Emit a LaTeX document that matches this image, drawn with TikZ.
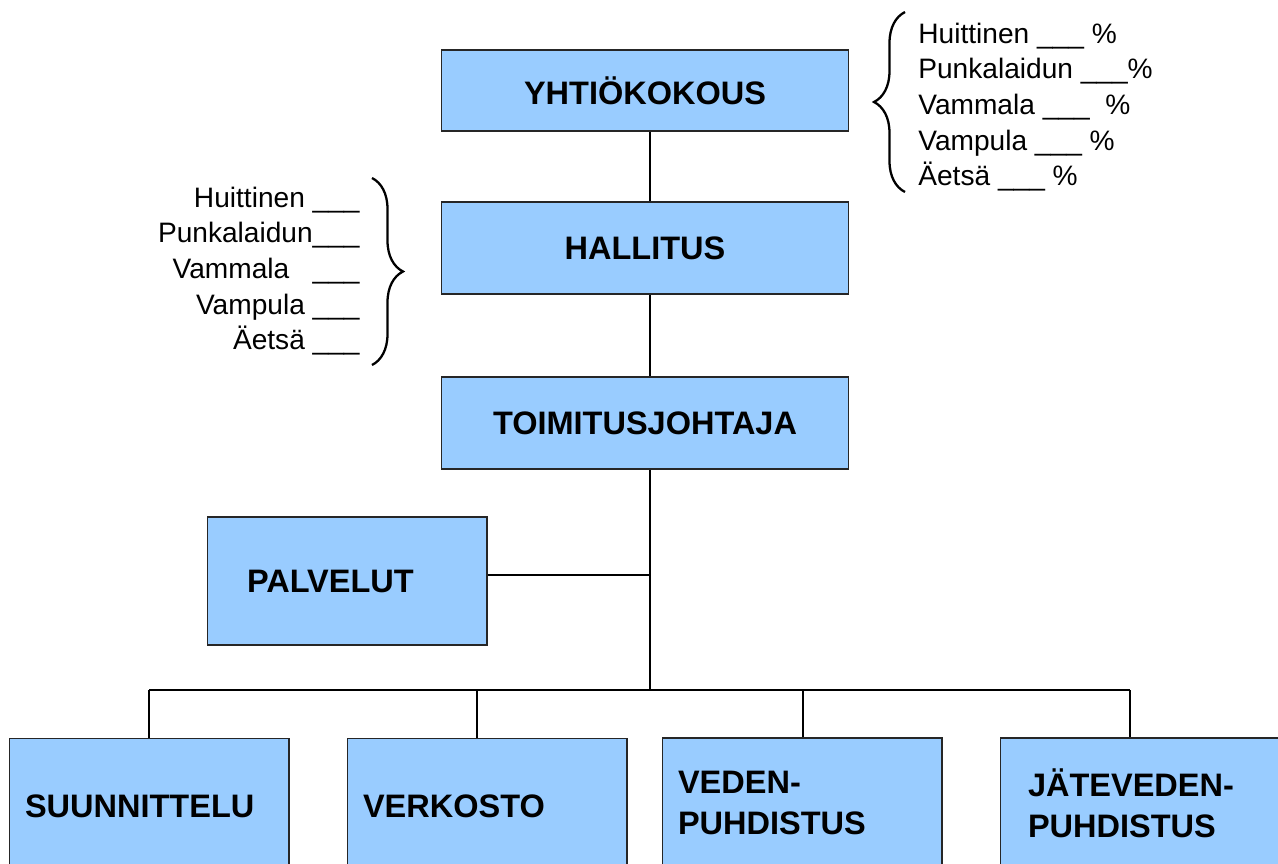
\documentclass[tikz,border=0pt]{standalone}
\usepackage{fontspec}
\setmainfont{Liberation Sans}
\usetikzlibrary{decorations.pathreplacing,calc}
\definecolor{boxblue}{HTML}{99CCFF}
\tikzset{
    block/.style = {draw=black!85, rectangle, fill=boxblue, line width=0.6pt,
        font=\fontsize{18.5}{23.5}\selectfont\bfseries,
        minimum height=1.84cm,
        minimum width=8.16cm},
    unit/.style = {block, align=left,
        minimum height=2.72cm,
        minimum width=5.6cm},
    line/.style = {draw, line width=1.2pt},
    share/.style = {inner sep=0pt, font=\fontsize{16}{20.3}\selectfont},
    curly/.style = {draw, line width=1.3pt, decorate, decoration={brace, amplitude=0.62cm}}
}

\begin{document}
\begin{tikzpicture}[x=0.02cm, y=-0.02cm]
                \clip (0,0) rectangle (1278,863);
                \node[block, minimum height=1.62cm] (yk) at (645,90.5) {YHTIÖKOKOUS};
                \node[block] (hal) at (645,248) {HALLITUS};
                \node[block] (tj) at (645,423) {TOIMITUSJOHTAJA};
                \node[unit, minimum height=2.56cm, inner xsep=0.8cm, text width=4cm] (pal) at (347,581) {PALVELUT};
                \node[unit, inner xsep=0.32cm, text width=4.96cm] (suu) at (149,806) {SUUNNITTELU};
                \node[unit, inner xsep=0.32cm, text width=4.96cm] (ver) at (487,806) {VERKOSTO};
                \node[unit, minimum height=2.6cm, inner xsep=0.32cm, text width=4.96cm] (ved) at (802,803) {VEDEN-\\PUHDISTUS};
                \node[unit, minimum height=2.6cm, inner xsep=0.56cm, text width=4.48cm] (jat) at (1140,803) {JÄTEVEDEN-\\PUHDISTUS};
                % omistajat ja hallituksen jasenet
                \node[share, anchor=west, align=left] (osuus) at (918,107)
                    {Huittinen \_\_\_ \%\\Punkalaidun \_\_\_\%\\Vammala \_\_\_ \ \%\\Vampula \_\_\_ \%\\Äetsä \_\_\_ \%};
                \node[share, anchor=east, align=right] (jasen) at (360,271)
                    {Huittinen \_\_\_\\Punkalaidun\_\_\_\\Vammala\ \ \ \_\_\_\\Vampula \_\_\_\\Äetsä \_\_\_};
                \coordinate (pj) at (650,575);
                \coordinate (bj) at (650,690);
                \coordinate (d1) at (149,690);
                \coordinate (d2) at (477,690);
                \coordinate (d3) at (803,690);
                \coordinate (d4) at (1130,690);
                \coordinate (ra) at (905,192);
                \coordinate (rb) at (905,12);
                \coordinate (la) at (372,178);
                \coordinate (lb) at (372,365);
                \draw [line] (yk.south -| pj) -- (hal.north -| pj);
                \draw [line] (hal.south -| pj) -- (tj.north -| pj);
                \draw [line] (tj.south -| pj) -- (bj);
                \draw [line] (pal.east |- pj) -- (pj);
                \draw [line] (d1) -- (d4);
                \draw [line] (d1) -- (d1 |- suu.north);
                \draw [line] (d2) -- (d2 |- ver.north);
                \draw [line] (d3) -- (d3 |- ved.north);
                \draw [line] (d4) -- (d4 |- jat.north);
                \draw [curly] (ra) -- (rb);
                \draw [curly] (la) -- (lb);
            \end{tikzpicture}
\end{document}
